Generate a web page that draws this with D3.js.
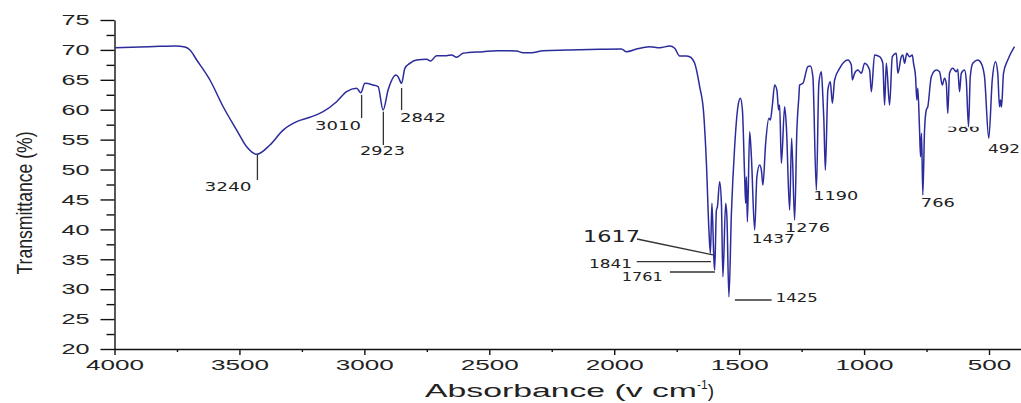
<!DOCTYPE html>
<html><head><meta charset="utf-8">
<script src="https://cdn.jsdelivr.net/npm/d3@7"></script>
<style>body{margin:0;background:#fff}svg{display:block}</style>
</head><body>
<svg id="chart" width="1021" height="403"></svg>
<script>
// ---- data ----
const wavenumber = [3998,3898,3818,3758,3718,3698,3671,3618,3565,3511,3471,3431,3378,3325,3271,3218,3165,3111,3071,3031,
3014,2998,2965,2945,2925,2905,2874,2865,2851,2838,2818,2791,2751,2735,2711,2671,2651,2631,2605,2525,
2471,2391,2365,2331,2285,2191,2058,1971,1951,1911,1858,1818,1778,1758,1738,1711,1698,1678,1658,1642,
1631,1621,1615,1609,1601,1598,1591,1587,1578,1571,1565,1554,1549,1541,1531,1518,1505,1495,1487,1478,
1474,1471,1467,1458,1451,1438,1429,1418,1411,1405,1394,1381,1375,1367,1358,1349,1342,1338,1331,1318,
1311,1298,1290,1278,1269,1261,1258,1245,1225,1215,1205,1191,1181,1171,1165,1161,1155,1145,1135,1127,
1118,1098,1065,1051,1047,1038,1025,1011,998,978,971,958,938,925,918,911,898,887,871,865,
851,845,838,829,818,807,802,794,789,785,778,774,770,765,758,751,745,731,711,698,
687,678,671,665,658,645,631,625,618,611,598,591,582,575,565,545,531,518,501,487,
474,465,458,454,450,442,425,398];
const transmittance = [70.37,70.48,70.6,70.65,70.48,69.98,68.31,64.97,60.5,56.6,53.81,52.54,54.1,56.6,58.0,58.73,59.67,61.34,63.01,63.58,
62.84,64.41,64.13,63.85,59.95,63.29,65.8,65.52,64.41,66.92,67.76,68.31,68.43,68.14,69.03,69.03,69.15,68.76,69.43,69.7,
69.87,69.82,69.53,69.53,69.87,69.98,70.1,70.15,69.7,70.15,70.54,70.37,70.65,70.27,68.98,68.98,68.86,67.76,63.85,59.4,
51.04,39.88,35.99,44.35,34.87,33.19,43.23,43.78,47.96,44.35,32.07,44.35,42.11,28.73,42.68,53.81,60.5,61.91,59.95,48.8,
44.35,48.8,41.27,56.32,52.14,39.88,48.8,50.75,49.92,47.41,54.38,58.56,58.28,60.79,64.13,63.29,59.95,60.79,51.04,60.5,
57.16,43.23,55.22,41.56,56.61,62.17,64.13,64.41,67.19,67.31,65.52,46.57,64.41,66.35,62.17,58.28,49.92,63.29,64.68,61.07,
64.97,66.92,68.31,67.47,64.97,66.09,66.64,66.09,67.76,66.64,63.01,69.15,68.86,67.76,60.79,67.76,60.79,68.86,69.43,66.09,
68.86,69.15,67.76,69.43,68.86,69.15,67.76,65.52,61.62,63.58,56.61,52.14,56.05,45.74,56.61,59.95,60.5,65.52,66.64,66.35,
64.13,65.25,64.41,59.4,66.09,66.92,66.35,66.76,63.01,66.09,66.64,64.97,57.16,65.52,67.76,68.31,67.76,65.52,55.22,64.97,
68.03,66.09,60.5,61.62,60.45,66.09,68.31,70.54];
const xTickValues = [4000,3500,3000,2500,2000,1500,1000,500];
const xMinorTickValues = [3750,3250,2750,2250,1750,1250,750];
const yTickValues = [20,25,30,35,40,45,50,55,60,65,70,75];
const yMinorTickValues = [22.5,27.5,32.5,37.5,42.5,47.5,52.5,57.5,62.5,67.5,72.5];
const peakLabels = ["3240","3010","2923","2842","1617","1841","1761","1425","1437","1276","1190","766","586","492"];
const xTitle = "Absorbance (v cm";
const yTitle = "Transmittance (%)";

// ---- layout ----
const svg = d3.select("#chart");
const x = d3.scaleLinear().domain([4000, 392]).range([114.5, 1016]);
const y = d3.scaleLinear().domain([20, 75]).range([349, 20]);
const lineColor = "#2b2b9c";
const fmt = d3.format("d");

// y axis
const yAxis = svg.append("g").attr("transform","translate(114.5,0)")
  .call(d3.axisLeft(y).tickValues(yTickValues).tickFormat(fmt).tickSize(14).tickPadding(11).tickSizeOuter(0));
svg.append("g").attr("transform","translate(114.5,0)")
  .call(d3.axisLeft(y).tickValues(yMinorTickValues).tickSize(8).tickFormat("").tickSizeOuter(0))
  .select(".domain").remove();
// x axis
const xAxis = svg.append("g").attr("transform","translate(0,349)")
  .call(d3.axisBottom(x).tickValues(xTickValues).tickFormat(fmt).tickSize(6).tickPadding(4).tickSizeOuter(0));
svg.append("g").attr("transform","translate(0,349)")
  .call(d3.axisBottom(x).tickValues(xMinorTickValues).tickSize(3).tickFormat("").tickSizeOuter(0))
  .select(".domain").remove();
svg.selectAll(".domain, .tick line").attr("stroke","#111").attr("stroke-width",1.4);
xAxis.select(".domain").attr("d","M114.5,0.5H1021");

yAxis.selectAll("text").attr("font-family","Liberation Sans, Arial, sans-serif")
  .attr("font-size",15).attr("fill","#222")
  .attr("textLength",function(){return 14*this.textContent.length;}).attr("lengthAdjust","spacingAndGlyphs");
xAxis.selectAll("text").attr("font-family","Liberation Sans, Arial, sans-serif")
  .attr("font-size",15).attr("fill","#222")
  .attr("textLength",function(){return 14.5*this.textContent.length;}).attr("lengthAdjust","spacingAndGlyphs");

// axis titles
svg.append("text").attr("transform","translate(32,203) rotate(-90)")
  .attr("text-anchor","middle").attr("font-family","Liberation Sans, Arial, sans-serif")
  .attr("font-size",22).attr("fill","#222")
  .attr("textLength",143).attr("lengthAdjust","spacingAndGlyphs").text(yTitle);
const xt = svg.append("text").attr("x",425).attr("y",397)
  .attr("font-family","Liberation Sans, Arial, sans-serif").attr("font-size",19).attr("fill","#222");
xt.append("tspan").attr("textLength",272).attr("lengthAdjust","spacingAndGlyphs").text(xTitle);
xt.append("tspan").attr("dy",-8).attr("font-size",12).text("-1");
xt.append("tspan").attr("dy",8).text(")");

// spectrum
const pts = wavenumber.map((w,i)=>[w,transmittance[i]]);
svg.append("path").datum(pts)
  .attr("fill","none").attr("stroke",lineColor).attr("stroke-width",1.5).attr("stroke-linejoin","round")
  .attr("d", d3.line().curve(d3.curveMonotoneX).x(d=>x(d[0])).y(d=>y(d[1])));

// annotations: leader lines [v1,T1,v2,T2] and label anchors [v,T,width,size]
const leaderLines = [
  [3428,52.43,3428,48.25],[3011,62.46,3011,58.62],[2924,59.67,2924,54.1],[2851,63.63,2851,59.95],
  [1909,38.39,1605,35.72],[1910,34.6,1613,34.6],[1777,32.87,1597,32.87],[1517,28.19,1370,28.19]
];
const labelPos = [
  [3640,46.41,47,12],[3197,56.61,46,12],[3017,52.43,45,12],[2857,58.03,46,12],
  [2125,37.89,57,15],[2101,33.46,43,12],[1970,31.37,41,12],[1353,27.94,42,12],
  [1450,37.72,43,12],[1316,39.64,45,12],[1203,44.91,45,12],[773,43.69,34,12],[669,56.33,33,12],[504,52.82,32,12]
];
svg.append("g").selectAll("line").data(leaderLines).join("line")
  .attr("x1",d=>x(d[0])).attr("y1",d=>y(d[1])).attr("x2",d=>x(d[2])).attr("y2",d=>y(d[3]))
  .attr("stroke","#333").attr("stroke-width",1.3);
const defs = svg.append("defs");
defs.append("clipPath").attr("id","cut586").append("rect")
  .attr("x",x(669)-2).attr("y",y(56.33)-5).attr("width",40).attr("height",12);
svg.append("g").selectAll("text").data(peakLabels).join("text")
  .attr("x",(d,i)=>x(labelPos[i][0])).attr("y",(d,i)=>y(labelPos[i][1]))
  .attr("font-family","DejaVu Sans, Verdana, sans-serif")
  .attr("font-size",(d,i)=>labelPos[i][3]).attr("fill","#222")
  .attr("textLength",(d,i)=>labelPos[i][2]).attr("lengthAdjust","spacingAndGlyphs")
  .attr("clip-path",d=>d==="586"?"url(#cut586)":null)
  .text(d=>d);
</script>
</body></html>
